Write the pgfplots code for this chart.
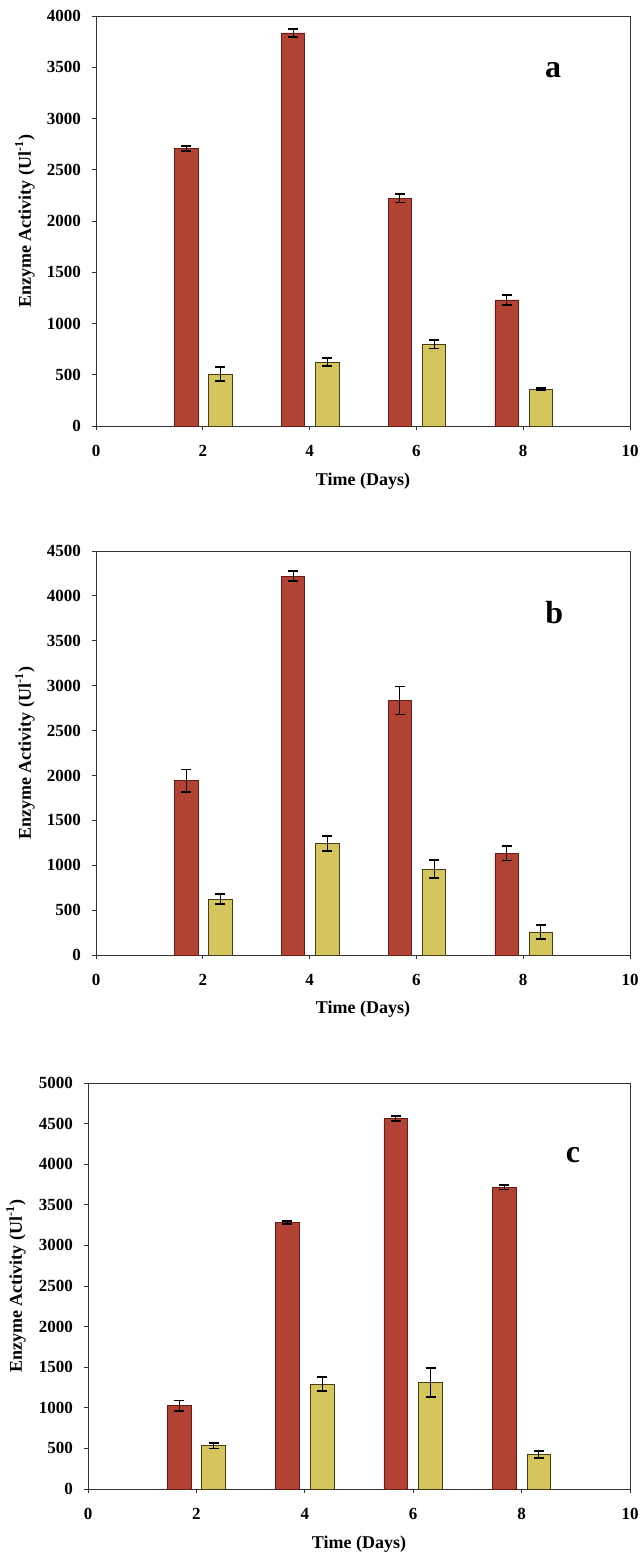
\documentclass[border=0pt]{standalone}
\usepackage{fontspec}
\setmainfont{Liberation Serif}
\usepackage{pgfplots}
\usepackage{pgfplotstable}
\pgfplotsset{compat=1.18}

\definecolor{barred}{RGB}{178,66,52}
\definecolor{barredline}{RGB}{105,28,22}
\definecolor{baryel}{RGB}{212,198,92}
\definecolor{baryelline}{RGB}{70,62,25}

\pgfplotstableread{
day red rerr yel yerr
2 2705 25 508 65
4 3835 40 625 40
6 2222 42 800 43
8 1230 52 358 10
}\dataA

\pgfplotstableread{
day red rerr yel yerr
2 1940 127 620 56
4 4220 55 1245 85
6 2835 157 956 100
8 1135 82 257 81
}\dataB

\pgfplotstableread{
day red rerr yel yerr
2 1028 63 532 33
4 3282 17 1293 90
6 4563 33 1312 180
8 3716 28 425 45
}\dataC

\pgfplotsset{
  panel/.style={
    scale only axis,
    xmin=0, xmax=10, xtick={0,2,4,6,8,10},
    ymin=0,
    tick align=outside, major tick length=2pt, tick pos=left,
    axis line style={black!80, line width=0.5pt},
    tick style={black!80, line width=0.5pt},
    /pgf/number format/assume math mode=true,
    /pgf/number format/1000 sep={},
    ticklabel style={font=\fontsize{8.5}{10}\selectfont\bfseries},
    yticklabel style={xshift=-2pt},
    xticklabel style={yshift=-4pt},
    xlabel={Time (Days)},
    ylabel={Enzyme Activity (Ul\textsuperscript{-1})},
    every axis y label/.style={at={(axis description cs:-0.133,0.5)}, rotate=90, anchor=center,
      font=\fontsize{9}{11}\selectfont\bfseries},
    every axis x label/.style={at={(axis description cs:0.5,-0.135)}, anchor=center,
      font=\fontsize{9}{11}\selectfont\bfseries},
    ybar, bar width=0.44, bar shift=0pt,
    clip=false,
  },
  redbars/.style={fill=barred, draw=barredline, line width=0.4pt,
    /pgfplots/error bars/y dir=both, /pgfplots/error bars/y explicit,
    /pgfplots/error bars/error bar style={black, line width=0.5pt},
    /pgfplots/error bars/error mark options={black, rotate=90, mark size=2.5pt, line width=0.9pt}},
  yelbars/.style={fill=baryel, draw=baryelline, line width=0.4pt,
    /pgfplots/error bars/y dir=both, /pgfplots/error bars/y explicit,
    /pgfplots/error bars/error bar style={black, line width=0.5pt},
    /pgfplots/error bars/error mark options={black, rotate=90, mark size=2.5pt, line width=0.9pt}},
}

\begin{document}
\begin{tikzpicture}
% panel a
\begin{axis}[panel, at={(48pt,-213pt)}, anchor=south west, width=267pt, height=205pt,
  ymax=4000, ytick={0,500,...,4000}]
\addplot[redbars] table[x expr=\thisrow{day}-0.31, y=red, y error=rerr] {\dataA};
\addplot[yelbars] table[x expr=\thisrow{day}+0.33, y=yel, y error=yerr] {\dataA};
\node[font=\fontsize{16}{18}\selectfont\bfseries] at (axis cs:8.56,3473) {a};
\end{axis}
% panel b
\begin{axis}[panel, at={(48pt,-477.5pt)}, anchor=south west, width=267pt, height=202pt,
  ymax=4500, ytick={0,500,...,4500}]
\addplot[redbars] table[x expr=\thisrow{day}-0.31, y=red, y error=rerr] {\dataB};
\addplot[yelbars] table[x expr=\thisrow{day}+0.33, y=yel, y error=yerr] {\dataB};
\node[font=\fontsize{16}{18}\selectfont\bfseries] at (axis cs:8.58,3809) {b};
\end{axis}
% panel c
\begin{axis}[panel, at={(44pt,-744.5pt)}, anchor=south west, width=271pt, height=203pt,
  ymax=5000, ytick={0,500,...,5000}]
\addplot[redbars] table[x expr=\thisrow{day}-0.32, y=red, y error=rerr] {\dataC};
\addplot[yelbars] table[x expr=\thisrow{day}+0.32, y=yel, y error=yerr] {\dataC};
\node[font=\fontsize{16}{18}\selectfont\bfseries] at (axis cs:8.95,4113) {c};
\end{axis}
\pgfresetboundingbox
\path[use as bounding box] (0,0) rectangle (321pt,-777pt);
\end{tikzpicture}
\end{document}
